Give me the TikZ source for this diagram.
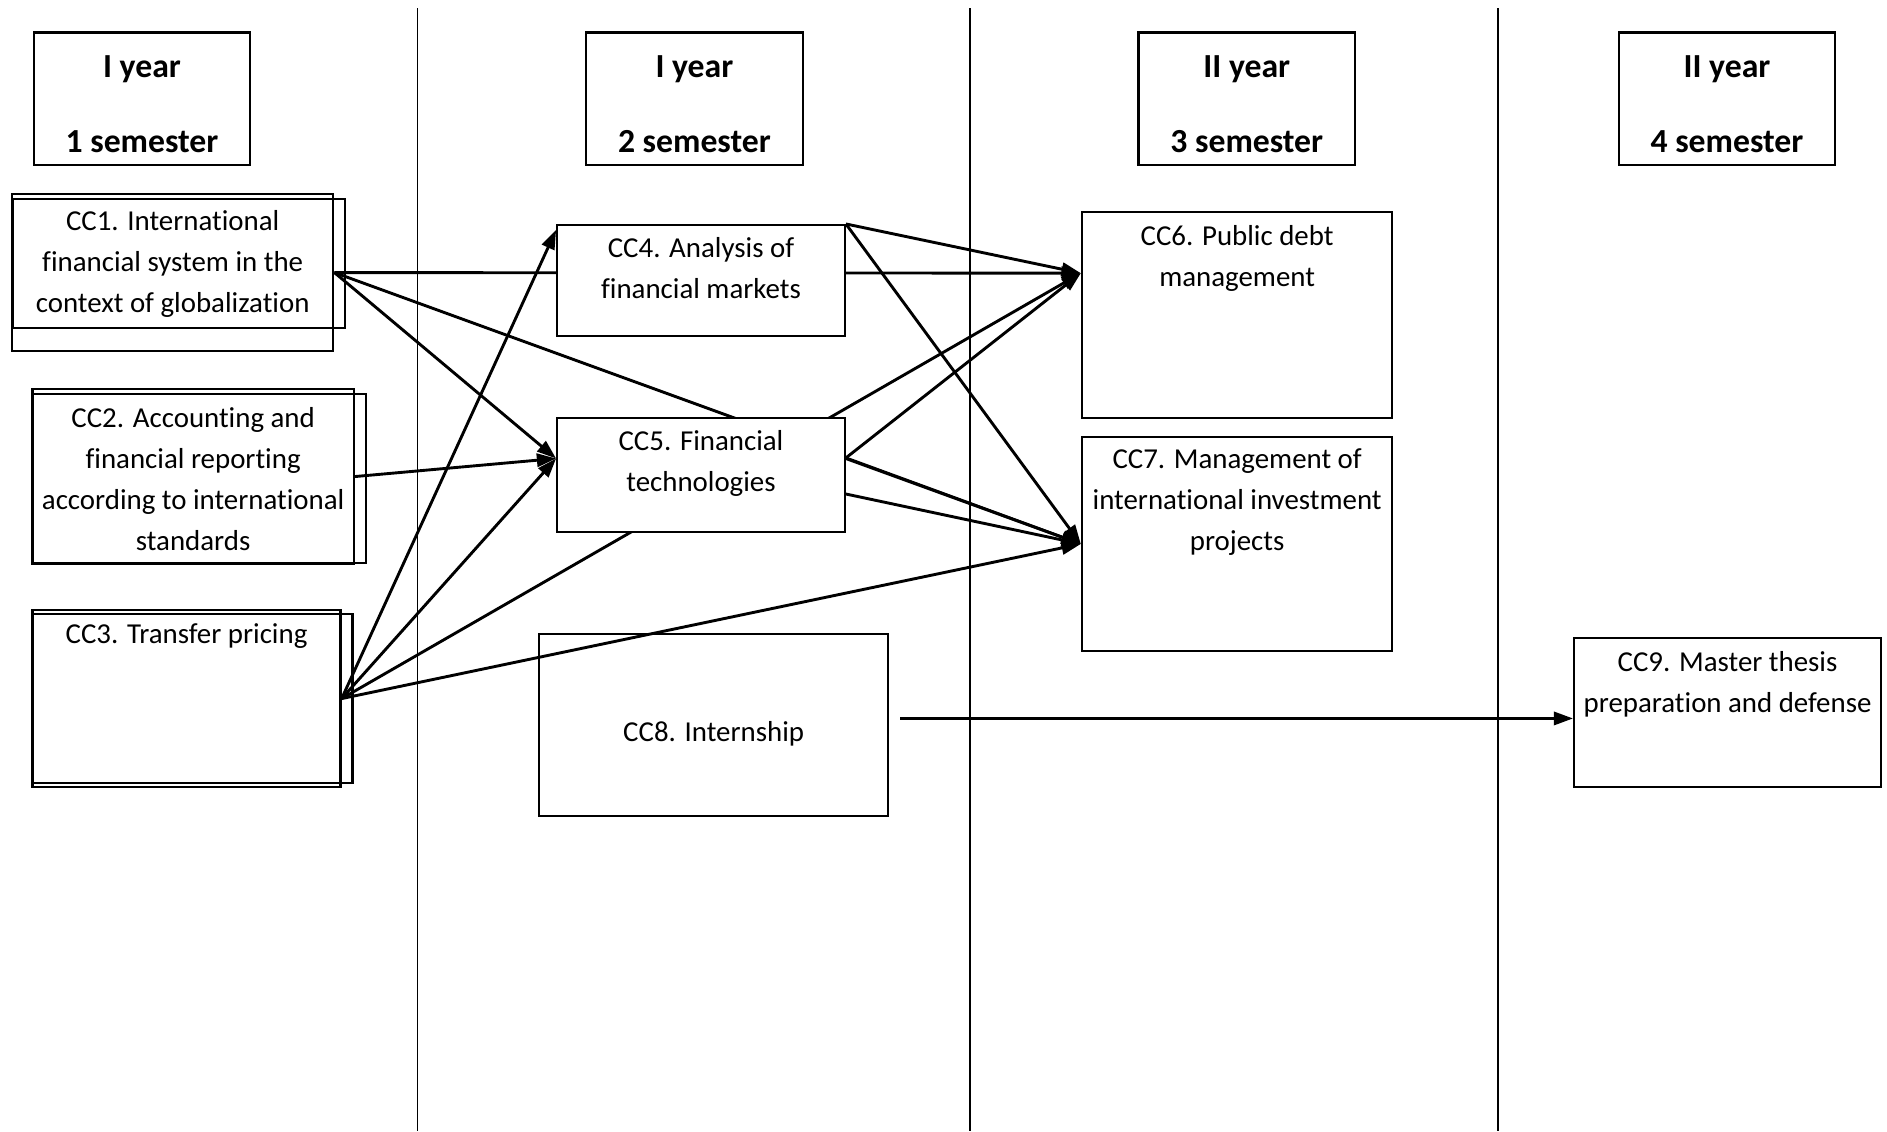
\documentclass[tikz,border=0pt]{standalone}
\usepackage{fontspec}
\setmainfont{Carlito}[Ligatures=NoCommon]
\usetikzlibrary{positioning,arrows.meta,backgrounds}

\begin{document}
\begin{tikzpicture}[x=0.5pt,y=-0.5pt,
  box/.style={draw,fill=white,line width=0.9pt,inner sep=0pt},
  head/.style={box,minimum width=90pt,minimum height=55pt,align=center,
    font=\fontsize{14}{31}\selectfont\bfseries},
  txt/.style={inner sep=0pt,align=center,font=\fontsize{12}{17}\selectfont},
  link/.style={line width=1.2pt,-{Triangle[length=8pt,width=5.5pt]}}]
  \useasboundingbox (0,0) rectangle (1568,940);
  %semester headers
  \node[head] (s1) at (118,82) {\rule{0pt}{16pt}I year\\1 semester\vphantom{y}};
  \node[head] (s2) at (577,82) {\rule{0pt}{16pt}I year\\2 semester\vphantom{y}};
  \node[head] (s3) at (1036,82) {\rule{0pt}{16pt}II year\\3 semester\vphantom{y}};
  \node[head] (s4) at (1435,82) {\rule{0pt}{16pt}II year\\4 semester\vphantom{y}};
  %course boxes
  \node[box,minimum width=133.5pt,minimum height=65.5pt] (cc1) at (143.5,226.5) {};
  \node[box,minimum width=133.5pt,minimum height=73pt] (cc2) at (160.5,396) {};
  \node[box,minimum width=128pt,minimum height=73.5pt] (cc3) at (155,580.5) {};
  \node[box,minimum width=119.5pt,minimum height=46pt] (cc4) at (582.5,233) {};
  \node[box,minimum width=119.5pt,minimum height=47.5pt] (cc5) at (582.5,394.5) {};
  \node[box,minimum width=129pt,minimum height=85.5pt] (cc6) at (1028,261.5) {};
  \node[box,minimum width=129pt,minimum height=89pt] (cc7) at (1028,452) {};
  \node[box,fill=none,minimum width=145pt,minimum height=75.5pt] (cc8) at (593,602.5) {};
  \node[box,minimum width=127.5pt,minimum height=62pt] (cc9) at (1435.5,592) {};
  %second frames of the first three boxes
  \draw[line width=0.9pt] ([shift={(2,5)}]cc1.north west) rectangle ([shift={(9,-20)}]cc1.south east);
  \draw[line width=0.9pt] ([shift={(1,5)}]cc2.north west) rectangle ([shift={(9,-2)}]cc2.south east);
  \draw[line width=0.9pt] ([shift={(1,4)}]cc3.north west) rectangle ([shift={(9,-4)}]cc3.south east);
  %course titles
  \node[txt,below=7.3pt of cc1.north] (cc1t) {CC1. International\\financial system in the\\context of globalization};
  \node[txt,below=8pt of cc2.north] (cc2t) {CC2. Accounting and\\financial reporting\\according to international\\standards};
  \node[txt,below=6pt of cc3.north] (cc3t) {CC3. Transfer pricing};
  \node[txt,below=5.6pt of cc4.north] (cc4t) {CC4. Analysis of\\financial markets};
  \node[txt,below=5.6pt of cc5.north] (cc5t) {CC5. Financial\\technologies};
  \node[txt,below=5.8pt of cc6.north] (cc6t) {CC6. Public debt\\management};
  \node[txt,below=5.2pt of cc7.north] (cc7t) {CC7. Management of\\international investment\\projects};
  \node[txt,below=36.6pt of cc8.north] (cc8t) {CC8. Internship};
  \node[txt,below=5.8pt of cc9.north] (cc9t) {CC9. Master thesis\\preparation and defense};
  %ends of the links
  \coordinate (in4) at ([yshift=-2.5pt]cc4.north west);
  \coordinate (in5) at ([yshift=6.75pt]cc5.west);
  \coordinate (in6) at ([yshift=17.25pt]cc6.west);
  \coordinate (o5a) at ([yshift=7pt]cc5.east);
  \coordinate (o5b) at ([yshift=-8pt]cc5.east);
  \coordinate (o8) at ([shift={(9,-5.5)}]cc8.east);
  \begin{scope}[on background layer]
    %semester borders
    \foreach \x in {347,806,1245}
      \draw[line width=0.7pt] (\x,7) -- (\x,940);
    %links
    \draw[link] (cc1.east) -- (in6);
    \draw[link] (cc1.east) -- (in5);
    \draw[link] (cc1.east) -- (cc7.west);
    \draw[link] (cc2.east) -- (in5);
    \draw[link] (cc3.east) -- (in4);
    \draw[link] (cc3.east) -- (in5);
    \draw[link] (cc3.east) -- (in6);
    \draw[link] (cc3.east) -- (cc7.west);
    \draw[link] (cc4.north east) -- (in6);
    \draw[link] (cc4.north east) -- (cc7.west);
    \draw[link] (o5a) -- (in6);
    \draw[link] (o5a) -- (cc7.west);
    \draw[link] (o5b) -- (cc7.west);
    \draw[link] (o8) -- (o8 -| cc9.west);
  \end{scope}
\end{tikzpicture}
\end{document}
